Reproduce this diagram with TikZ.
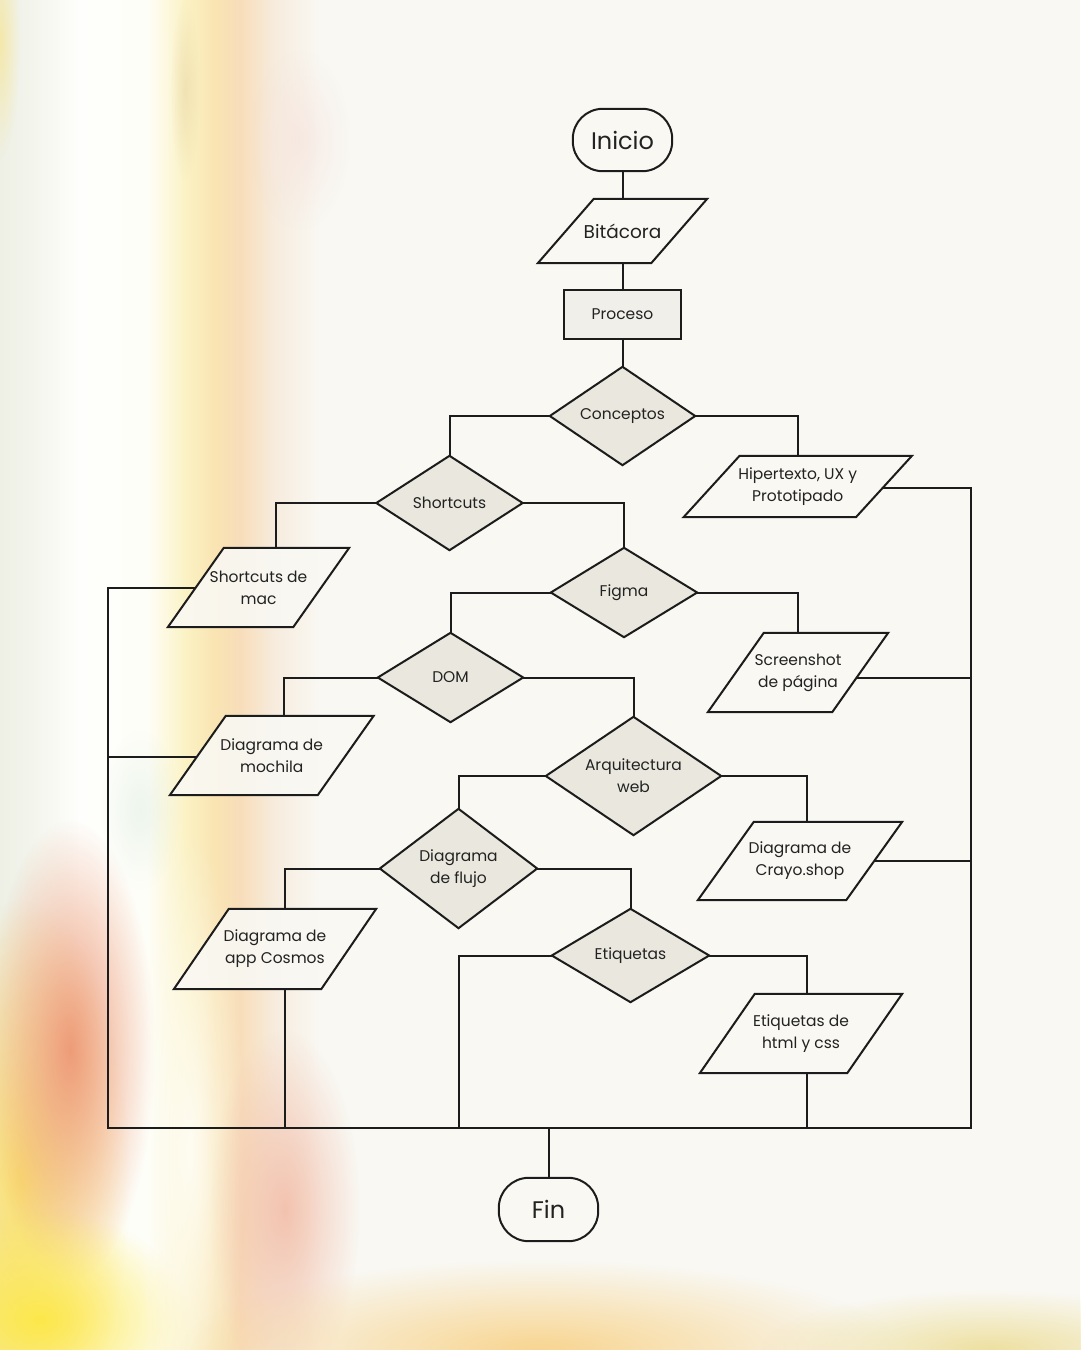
\documentclass[tikz,border=0pt]{standalone}
\usepackage{fontspec}
\setmainfont{Poppins}
\usetikzlibrary{calc,fadings}

\definecolor{bgc}{HTML}{F9F8F3}
\definecolor{ink}{HTML}{1C1C1C}
\definecolor{txt}{HTML}{222222}
\definecolor{dfill}{HTML}{EAE8DE}
\definecolor{rfill}{HTML}{F0EFEA}
\definecolor{parfill}{HTML}{F9F8F3}
\definecolor{g0}{HTML}{EEF0E6}
\definecolor{g1}{HTML}{F2F3EA}
\definecolor{g2}{HTML}{FEFEFC}
\definecolor{g3}{HTML}{FEFEF8}
\definecolor{g4}{HTML}{FBF2C4}
\definecolor{g5}{HTML}{F9E4B2}
\definecolor{g6}{HTML}{F8DDBA}
\definecolor{g7}{HTML}{F7ECDE}
\definecolor{orng}{HTML}{EE9C78}
\definecolor{yelw}{HTML}{FBE070}
\definecolor{yelw2}{HTML}{FDE84A}
\definecolor{pnk}{HTML}{F2BBA6}
\definecolor{teal}{HTML}{CFE6D8}
\definecolor{byel}{HTML}{EEE0A0}
\definecolor{bora}{HTML}{F8D590}
\definecolor{tpink}{HTML}{F6E2DC}
\definecolor{tan}{HTML}{EAD8A8}

\pgfdeclarehorizontalshading{leftbg}{100bp}{color(0bp)=(g0); color(25bp)=(g0); color(29bp)=(g1); color(37.5bp)=(g2); color(48bp)=(g3); color(54bp)=(g4); color(58.6bp)=(g5); color(62.5bp)=(g6); color(68bp)=(g7); color(75bp)=(bgc); color(100bp)=(bgc)}
\tikzfading[name=blobfade, inner color=transparent!0, outer color=transparent!100]

\pgfdeclarelayer{bglayer}
\pgfdeclarelayer{shp}
\pgfsetlayers{bglayer,shp,main}

\tikzset{
  lbl/.style={shape=rectangle, inner sep=0pt, align=center, text=txt,
    font=\fontsize{15.5}{22}\selectfont},
  shapeline/.style={draw=ink, line width=2pt, line join=miter},
  con/.style={draw=ink, line width=2pt, line join=miter}
}

\newcommand\DiaNode[6]{%
  \node[lbl, minimum width=#4pt, minimum height=#5pt] (#1) at (#2,#3) {#6};
  \begin{pgfonlayer}{shp}
    \filldraw[shapeline, fill=dfill] (#1.north) -- (#1.east) -- (#1.south) -- (#1.west) -- cycle;
  \end{pgfonlayer}}
\newcommand\ParaNode[7]{%
  \node[lbl, minimum width=#4pt, minimum height=#5pt] (#1) at (#2,#3) {#7};
  \coordinate (#1-tl) at ([xshift=0.5*#6pt]#1.north west);
  \coordinate (#1-tr) at ([xshift=0.5*#6pt]#1.north east);
  \coordinate (#1-br) at ([xshift=-0.5*#6pt]#1.south east);
  \coordinate (#1-bl) at ([xshift=-0.5*#6pt]#1.south west);
  \begin{pgfonlayer}{shp}
    \filldraw[shapeline, fill=parfill, fill opacity=0.9] (#1-tl) -- (#1-tr) -- (#1-br) -- (#1-bl) -- cycle;
  \end{pgfonlayer}}
\newcommand\StadNode[6]{%
  \node[lbl, minimum width=#4pt, minimum height=#5pt] (#1) at (#2,#3) {#6};
  \begin{pgfonlayer}{shp}
    \filldraw[shapeline, fill=parfill, rounded corners=30pt] (#1.north west) rectangle (#1.south east);
  \end{pgfonlayer}}
\newcommand\BoxNode[6]{%
  \node[lbl, minimum width=#4pt, minimum height=#5pt] (#1) at (#2,#3) {#6};
  \begin{pgfonlayer}{shp}
    \filldraw[shapeline, fill=rfill] (#1.north west) rectangle (#1.south east);
  \end{pgfonlayer}}

\begin{document}
\begin{tikzpicture}[x=1pt,y=-1pt]
\useasboundingbox (0,0) rectangle (1080,1350);
\begin{pgfonlayer}{bglayer}
  \fill[bgc] (0,0) rectangle (1080,1350);
  \shade[shading=leftbg] (0,0) rectangle (320,1350);
  \fill[tan, opacity=0.6, path fading=blobfade] (185,90) ellipse (15 and 90);
  \fill[tpink, opacity=0.6, path fading=blobfade] (300,140) ellipse (50 and 90);
  \fill[yelw, opacity=0.5, path fading=blobfade] (0,40) ellipse (20 and 120);
  \fill[teal, opacity=0.35, path fading=blobfade] (140,810) ellipse (40 and 80);
  \fill[yelw, path fading=blobfade] (20,1180) ellipse (110 and 280);
  \fill[orng, path fading=blobfade] (70,1050) ellipse (85 and 230);
  \fill[yelw2, path fading=blobfade] (40,1320) ellipse (150 and 110);
  \fill[white, opacity=0.8, path fading=blobfade] (190,1150) ellipse (55 and 320);
  \fill[pnk, opacity=0.85, path fading=blobfade] (285,1210) ellipse (75 and 180);
  \fill[bora, path fading=blobfade] (540,1350) ellipse (360 and 90);
  \fill[byel, path fading=blobfade] (990,1350) ellipse (230 and 60);
\end{pgfonlayer}

\StadNode{ini}{622.5}{140}{99}{62}{\fontsize{24}{28}\selectfont Inicio}
\ParaNode{bit}{622.5}{231}{113}{64}{56}{\fontsize{18.5}{22}\selectfont Bitácora}
\BoxNode{proc}{622.5}{314.5}{117}{49}{Proceso}
\DiaNode{conc}{622.5}{416}{145}{98}{Conceptos}
\ParaNode{hip}{797.75}{486.5}{172}{61}{56}{Hipertexto, UX y\\Prototipado}
\DiaNode{shc}{449.5}{503}{146}{94}{Shortcuts}
\ParaNode{mac}{258.5}{587.5}{125}{79}{56}{Shortcuts de\\mac}
\DiaNode{fig}{624}{592.5}{146}{89}{Figma}
\ParaNode{scr}{798}{672.5}{124}{79}{56}{Screenshot\\de página}
\DiaNode{dom}{450.5}{677.5}{145}{89}{DOM}
\ParaNode{moch}{271.75}{755.5}{147.5}{79}{56}{Diagrama de\\mochila}
\DiaNode{arq}{633.5}{776}{175}{118}{Arquitectura\\web}
\ParaNode{cray}{800}{861}{148}{78}{56}{Diagrama de\\Crayo.shop}
\DiaNode{flu}{458.5}{868.5}{157}{119}{Diagrama\\de flujo}
\ParaNode{cos}{275}{949}{147}{80}{55}{Diagrama de\\app Cosmos}
\DiaNode{etq}{630.5}{955.5}{157}{93}{Etiquetas}
\ParaNode{html}{801}{1033.5}{147}{79}{55}{Etiquetas de\\html y css}
\StadNode{fin}{548.5}{1209.5}{99}{63}{\fontsize{24}{28}\selectfont Fin}

% connectors
\draw[con] (ini.south) -- (bit.north);
\draw[con] (bit.south) -- (proc.north);
\draw[con] (proc.south) -- (conc.north);
\draw[con] (conc.west) -| (shc.north);
\draw[con] (conc.east) -| (hip.north);
\coordinate (macT) at ([xshift=17.5pt]mac.north);
\draw[con] (shc.west) -| (macT);
\draw[con] (shc.east) -| (fig.north);
\draw[con] (fig.west) -| (dom.north);
\draw[con] (fig.east) -| (scr.north);
\coordinate (mochT) at ([xshift=12pt]moch.north);
\draw[con] (dom.west) -| (mochT);
\draw[con] (dom.east) -| (arq.north);
\coordinate (crayT) at ([xshift=7pt]cray.north);
\draw[con] (arq.east) -| (crayT);
\draw[con] (arq.west) -| (flu.north);
\coordinate (cosT) at ([xshift=10pt]cos.north);
\coordinate (cosB) at ([xshift=10pt]cos.south);
\draw[con] (flu.west) -| (cosT);
\draw[con] (flu.east) -| (etq.north);
\coordinate (htmlT) at ([xshift=6pt]html.north);
\coordinate (htmlB) at ([xshift=6pt]html.south);
\draw[con] (etq.east) -| (htmlT);

% collecting bus
\coordinate (busL) at (108,1128);
\coordinate (busR) at (971,1128);
\coordinate (macL) at ($(mac-tl)!0.506!(mac-bl)$);
\coordinate (mochL) at ($(moch-tl)!0.52!(moch-bl)$);
\coordinate (hipR) at ($(hip-tr)!0.525!(hip-br)$);
\coordinate (scrR) at ($(scr-tr)!0.57!(scr-br)$);
\coordinate (crayR) at ($(cray-tr)!0.5!(cray-br)$);
\draw[con] (macL) -| (busL) -- (busR) |- (hipR);
\draw[con] (mochL) -- (mochL -| busL);
\draw[con] (scrR) -- (scrR -| busR);
\draw[con] (crayR) -- (crayR -| busR);
\draw[con] (cosB) -- (cosB |- busL);
\draw[con] (etq.west) -| (flu.north |- busL);
\draw[con] (htmlB) -- (htmlB |- busL);
\draw[con] (fin.north) -- (fin.north |- busL);
\end{tikzpicture}
\end{document}
